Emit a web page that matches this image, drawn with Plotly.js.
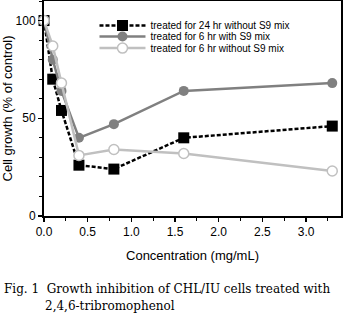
<!DOCTYPE html>
<html><head><meta charset="utf-8">
<script src="https://cdn.plot.ly/plotly-3.0.1.min.js"></script>
<style>html,body{margin:0;padding:0;background:#fff}#chart{width:343px;height:331px}</style>
</head><body><div id="chart"></div>
<script>
const concentration = [0, 0.1, 0.2, 0.4, 0.8, 1.6, 3.3];
const growth24hNoS9 = [100, 70, 54, 26, 24, 40, 46];
const growth6hWithS9 = [100, 80, 64, 40, 47, 64, 68];
const growth6hNoS9 = [100, 87, 68, 31, 34, 32, 23];
const seriesNames = ["treated for 24 hr without S9 mix", "treated for 6 hr with S9 mix", "treated for 6 hr without S9 mix"];
const xTicks = [0, 0.5, 1.0, 1.5, 2.0, 2.5, 3.0];
const xTickText = ["0.0", "0.5", "1.0", "1.5", "2.0", "2.5", "3.0"];
const yTicks = [0, 50, 100];

const traces = [
  {x: concentration, y: growth24hNoS9, name: seriesNames[0], mode: "lines+markers", legend: "legend",
   cliponaxis: false,
   line: {color: "#000", width: 2.5, dash: "4px,2px"},
   marker: {symbol: "square", size: 11, color: "#000"}},
  {x: concentration, y: growth6hWithS9, name: seriesNames[1], mode: "lines+markers", legend: "legend2",
   cliponaxis: false,
   line: {color: "#808080", width: 2.5},
   marker: {symbol: "circle", size: 10, color: "#808080"}},
  {x: concentration, y: growth6hNoS9, name: seriesNames[2], mode: "lines+markers", legend: "legend3",
   cliponaxis: false,
   line: {color: "#c0c0c0", width: 2.5},
   marker: {symbol: "circle", size: 10, color: "#fff", line: {color: "#c0c0c0", width: 1.5}}}
];

const axisFont = {family: "Liberation Sans, Arial, sans-serif", size: 12, color: "#000"};
const titleFont = {family: "Liberation Sans, Arial, sans-serif", size: 13, color: "#000"};
const legFont = {family: "Liberation Sans, Arial, sans-serif", size: 10, color: "#000"};
const capFont = {family: "DejaVu Serif, serif", size: 12, color: "#000"};
function leg(y) {
  return {x: 0.17, y: y, xanchor: "left", yanchor: "middle", bgcolor: "rgba(0,0,0,0)",
          font: legFont, itemwidth: 46, borderwidth: 0};
}
const layout = {
  width: 343, height: 331,
  margin: {l: 44, r: 2, t: 1, b: 115},
  paper_bgcolor: "#fff", plot_bgcolor: "#fff",
  showlegend: true,
  legend: leg(0.886), legend2: leg(0.835), legend3: leg(0.781),
  xaxis: {range: [0, 3.4], tickvals: xTicks, ticktext: xTickText, ticks: "outside", ticklen: 4,
          tickwidth: 1.5, tickcolor: "#000", showgrid: false, zeroline: false,
          showline: true, linecolor: "#000", linewidth: 2, mirror: true,
          minor: {dtick: 0.25, ticks: "outside", ticklen: 3, tickcolor: "#000", tickwidth: 1},
          tickfont: axisFont,
          title: {text: "Concentration (mg/mL)", font: titleFont, standoff: 12}},
  yaxis: {range: [0, 110], tickvals: yTicks, ticks: "outside", ticklen: 4, tickwidth: 1.5,
          tickcolor: "#000", showgrid: false, zeroline: false,
          showline: true, linecolor: "#000", linewidth: 2, mirror: true,
          minor: {dtick: 10, ticks: "outside", ticklen: 3, tickcolor: "#000", tickwidth: 1},
          tickfont: axisFont,
          title: {text: "Cell growth (% of control)", font: titleFont, standoff: 6}},
  annotations: [
    {xref: "paper", yref: "paper", x: -0.142, y: -0.34, xanchor: "left", yanchor: "middle",
     text: "Fig. 1  Growth inhibition of CHL/IU cells treated with", showarrow: false,
     font: capFont},
    {xref: "paper", yref: "paper", x: -0.003, y: -0.42, xanchor: "left", yanchor: "middle",
     text: "2,4,6-tribromophenol", showarrow: false,
     font: capFont}
  ]
};
Plotly.newPlot("chart", traces, layout, {displayModeBar: false, staticPlot: true});
</script></body></html>
